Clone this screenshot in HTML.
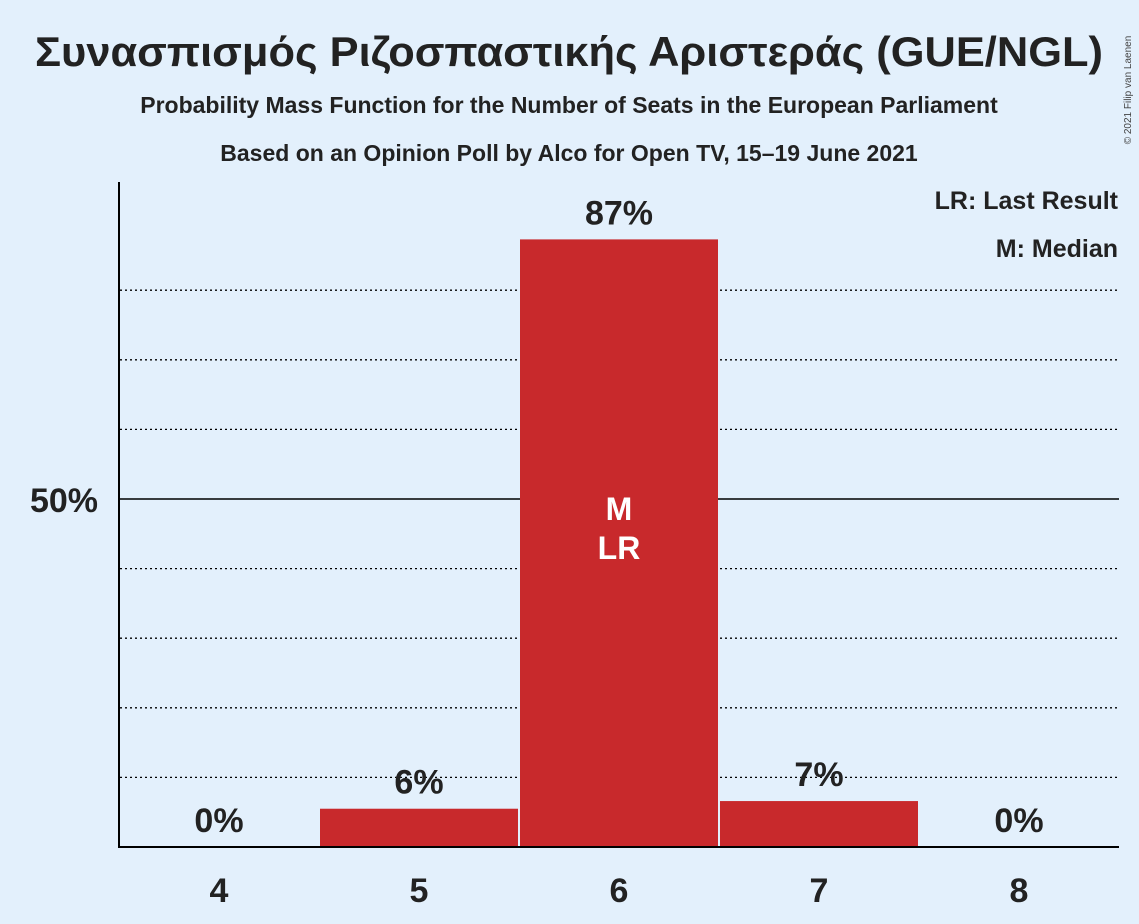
<!DOCTYPE html>
<html><head><meta charset="utf-8"><style>
body{margin:0;background:#e3f0fc;}
svg{display:block;font-family:"Liberation Sans",sans-serif;}
</style></head><body>
<svg id="chart" width="1139" height="924">
<rect width="1139" height="924" fill="#e3f0fc"/>
<text x="569" y="66" text-anchor="middle" font-size="42" font-weight="bold" fill="#222" textLength="1068" lengthAdjust="spacingAndGlyphs">Συνασπισμός Ριζοσπαστικής Αριστεράς (GUE/NGL)</text>
<text x="569" y="113" text-anchor="middle" font-size="23" font-weight="bold" fill="#222">Probability Mass Function for the Number of Seats in the European Parliament</text>
<text x="569" y="161" text-anchor="middle" font-size="23" font-weight="bold" fill="#222">Based on an Opinion Poll by Alco for Open TV, 15–19 June 2021</text>
<text x="1131" y="90" font-size="10" fill="#444" transform="rotate(-90 1131 90)" text-anchor="middle">© 2021 Filip van Laenen</text>
<text x="1118" y="209" text-anchor="end" font-size="25" font-weight="bold" fill="#222">LR: Last Result</text>
<text x="1118" y="257" text-anchor="end" font-size="25" font-weight="bold" fill="#222">M: Median</text>
<g id="grid"></g>
<g id="bars"></g>
<line x1="119" y1="182" x2="119" y2="848" stroke="#000" stroke-width="2"/>
<line x1="118" y1="847" x2="1119" y2="847" stroke="#000" stroke-width="2"/>
<text x="98" y="512" text-anchor="end" font-size="34" font-weight="bold" fill="#222">50%</text>
</svg>
<script>
const categories=[4,5,6,7,8];
const values=[0,5.5,87.3,6.6,0];
const labels=["0%","6%","87%","7%","0%"];
const gridTicks=[10,20,30,40,60,70,80];
const medianIndex=2, lastResultIndex=2;
const NS="http://www.w3.org/2000/svg";
const y=v=>847-v*6.96;
const x=i=>219+i*200;
const g=document.getElementById('grid'), b=document.getElementById('bars');
function mk(tag,attrs,parent,txt){const e=document.createElementNS(NS,tag);for(const k in attrs)e.setAttribute(k,attrs[k]);if(txt!==undefined)e.textContent=txt;parent.appendChild(e);return e;}
gridTicks.forEach(t=>{const l=mk('line',{x1:120,x2:1119,y1:y(t),y2:y(t),stroke:'#000','stroke-width':1.3,'stroke-dasharray':'2,3'},g);

});
const l50=mk('line',{x1:120,x2:1119,y1:y(50),y2:y(50),stroke:'#000','stroke-width':1.5},g);


categories.forEach((c,i)=>{
 if(values[i]>0){const r=mk('rect',{x:x(i)-99,y:y(values[i]),width:198,height:847-y(values[i]),fill:'#c8292c'},b);
 
 }
 const t=mk('text',{x:x(i),y:y(values[i])-15,'text-anchor':'middle','font-size':34,'font-weight':'bold',fill:'#222'},b,labels[i]);
 
 
 const xt=mk('text',{x:x(i),y:902,'text-anchor':'middle','font-size':34,'font-weight':'bold',fill:'#222'},b,String(c));
 
 
});
const m=mk('text',{x:x(medianIndex),y:520,'text-anchor':'middle','font-size':32,'font-weight':'bold',fill:'#fff'},b,'M');


const lr=mk('text',{x:x(lastResultIndex),y:559,'text-anchor':'middle','font-size':32,'font-weight':'bold',fill:'#fff'},b,'LR');


</script>
</body></html>
